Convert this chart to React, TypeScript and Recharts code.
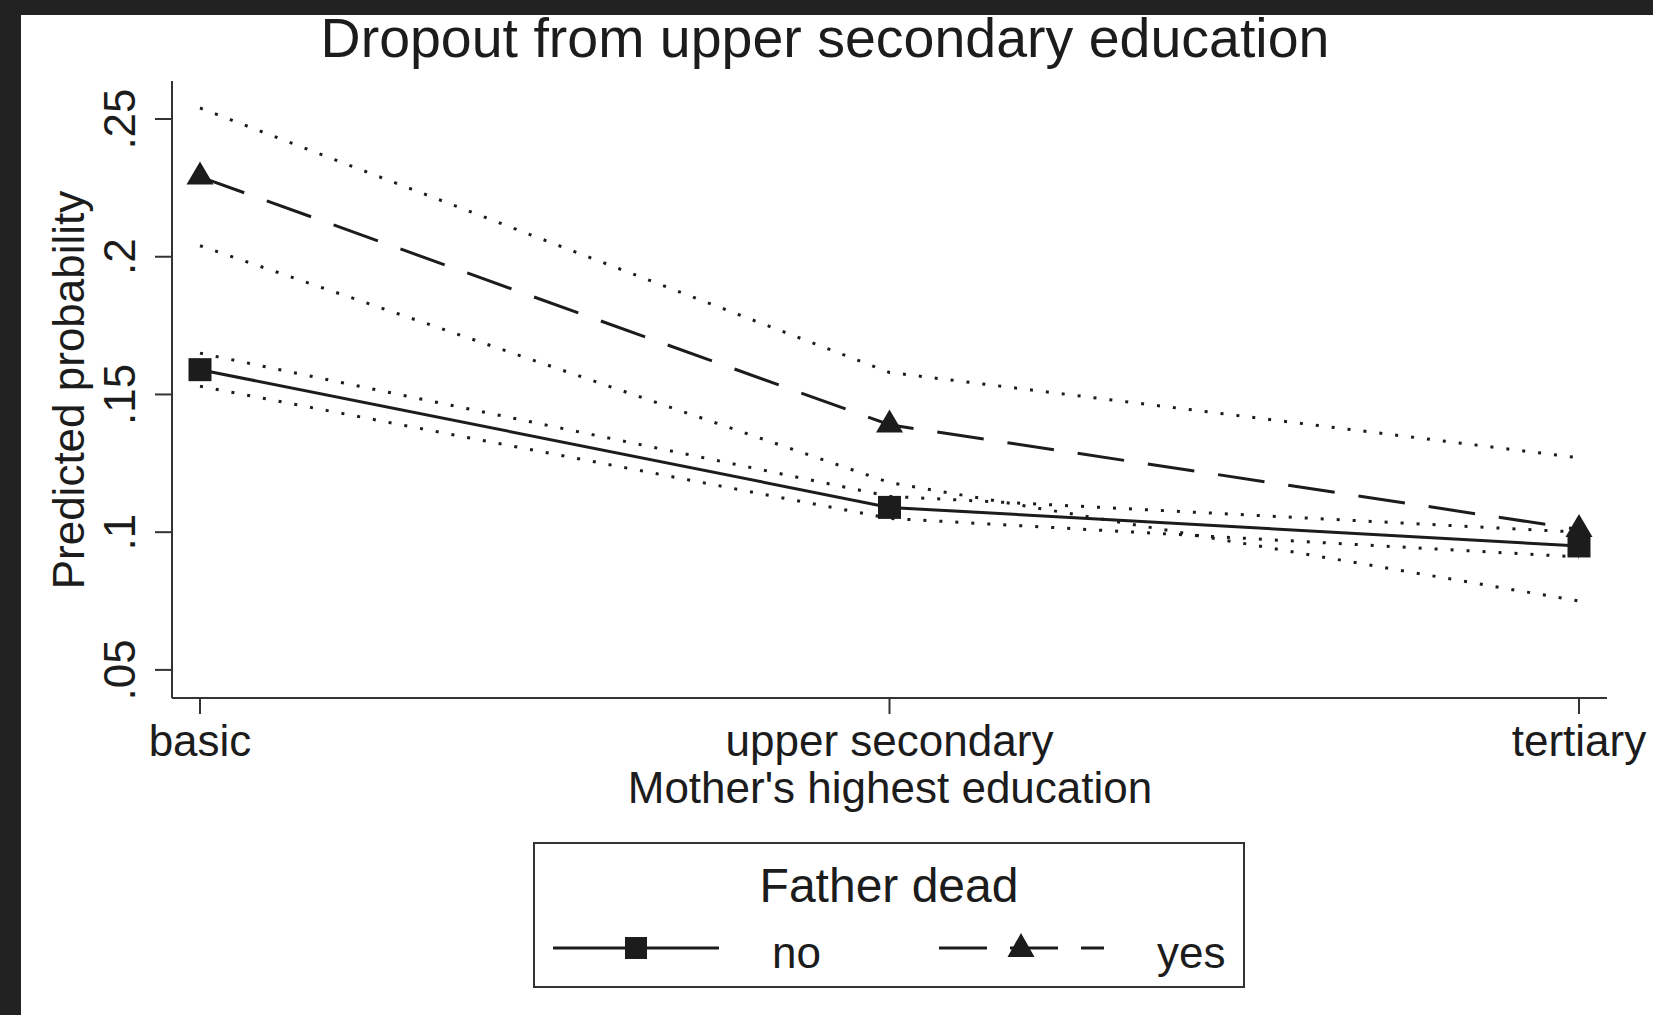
import React from "react";
import {
  LineChart,
  Line,
  XAxis,
  YAxis,
  Customized,
} from "recharts";

// Predicted probability of dropout, by mother's education and father's death
const categories = ["basic", "upper secondary", "tertiary"];
const noFit = [0.159, 0.109, 0.095];
const noLower = [0.153, 0.105, 0.091];
const noUpper = [0.165, 0.113, 0.1];
const yesFit = [0.229, 0.139, 0.101];
const yesLower = [0.204, 0.118, 0.075];
const yesUpper = [0.254, 0.158, 0.127];
const yTicks = [0.05, 0.1, 0.15, 0.2, 0.25];

const data = categories.map((cat, i) => ({
  cat,
  no: noFit[i],
  noLo: noLower[i],
  noHi: noUpper[i],
  yes: yesFit[i],
  yesLo: yesLower[i],
  yesHi: yesUpper[i],
}));

const FONT = "'Liberation Sans', Arial, Helvetica, sans-serif";
const INK = "#1c1c1c";
const FRAME = "#333";
const DOTS = "3 13";

const fmt = (v: number) => String(Number(v.toFixed(2))).replace(/^0/, "");

function Square({ cx, cy, size = 23 }: any) {
  if (cx == null || cy == null) return null;
  return <rect x={cx - size / 2} y={cy - size / 2} width={size} height={size} fill={INK} />;
}

function Triangle({ cx, cy, w = 27, h = 23 }: any) {
  if (cx == null || cy == null) return null;
  const top = cy - (h * 2) / 3;
  const bot = cy + h / 3;
  return (
    <polygon
      points={`${cx},${top} ${cx - w / 2},${bot} ${cx + w / 2},${bot}`}
      fill={INK}
    />
  );
}

function YTick({ x, y, payload }: any) {
  const tx = x - 18;
  return (
    <text
      x={tx}
      y={y}
      transform={`rotate(-90, ${tx}, ${y})`}
      textAnchor="middle"
      fontFamily={FONT}
      fontSize={44}
      fill={INK}
    >
      {fmt(payload.value)}
    </text>
  );
}

function XTick({ x, y, payload }: any) {
  return (
    <text x={x} y={y + 40} textAnchor="middle" fontFamily={FONT} fontSize={44} fill={INK}>
      {payload.value}
    </text>
  );
}

function Decorations() {
  return (
    <g fontFamily={FONT} fill={INK}>
      <text x={825} y={57} textAnchor="middle" fontSize={55.5}>
        Dropout from upper secondary education
      </text>
      <text
        x={84}
        y={390}
        transform="rotate(-90, 84, 390)"
        textAnchor="middle"
        fontSize={44}
      >
        Predicted probability
      </text>
      <text x={890} y={803} textAnchor="middle" fontSize={44}>
        Mother's highest education
      </text>

      {/* legend */}
      <rect x={534} y={843} width={710} height={144} fill="#fff" stroke={FRAME} strokeWidth={2} />
      <text x={889} y={902} textAnchor="middle" fontSize={48}>
        Father dead
      </text>
      <line x1={553} y1={948} x2={719} y2={948} stroke={INK} strokeWidth={3} />
      <Square cx={636} cy={948} size={22} />
      <text x={772} y={968} fontSize={44}>
        no
      </text>
      <line
        x1={939}
        y1={948}
        x2={1104}
        y2={948}
        stroke={INK}
        strokeWidth={3}
        strokeDasharray="48 23"
      />
      <Triangle cx={1021} cy={949} w={27} h={24} />
      <text x={1157} y={968} fontSize={44}>
        yes
      </text>
    </g>
  );
}

export default function App() {
  return (
    <div
      style={{
        position: "absolute",
        left: 0,
        top: 0,
        width: 1653,
        height: 1015,
        background: "#222",
        overflow: "hidden",
      }}
    >
      <div
        style={{
          position: "absolute",
          left: 21,
          top: 15,
          width: 1632,
          height: 1000,
          background: "#fff",
        }}
      />
      <div style={{ position: "absolute", left: 0, top: 0 }}>
        <LineChart
          width={1653}
          height={1015}
          data={data}
          margin={{ top: 81, right: 46, left: 0, bottom: 197 }}
        >
          <XAxis
            dataKey="cat"
            padding={{ left: 28, right: 28 }}
            height={120}
            tickSize={16}
            tickLine={{ stroke: FRAME, strokeWidth: 2 }}
            axisLine={{ stroke: FRAME, strokeWidth: 2 }}
            tick={<XTick />}
            interval={0}
          />
          <XAxis
            xAxisId="top"
            dataKey="cat"
            orientation="top"
            height={0}
            tick={false}
            tickLine={false}
            axisLine={{ stroke: FRAME, strokeWidth: 2 }}
          />
          <YAxis
            type="number"
            domain={[0.0398, 0.2638]}
            allowDataOverflow
            ticks={yTicks}
            width={172}
            tickSize={17}
            tickLine={{ stroke: FRAME, strokeWidth: 2 }}
            axisLine={{ stroke: FRAME, strokeWidth: 2 }}
            tick={<YTick />}
          />
          <YAxis
            yAxisId="right"
            orientation="right"
            width={0}
            tick={false}
            tickLine={false}
            axisLine={{ stroke: FRAME, strokeWidth: 2 }}
          />

          <Line dataKey="noHi" stroke={INK} strokeWidth={3} strokeDasharray={DOTS} dot={false} activeDot={false} isAnimationActive={false} />
          <Line dataKey="noLo" stroke={INK} strokeWidth={3} strokeDasharray={DOTS} dot={false} activeDot={false} isAnimationActive={false} />
          <Line dataKey="yesHi" stroke={INK} strokeWidth={3} strokeDasharray={DOTS} dot={false} activeDot={false} isAnimationActive={false} />
          <Line dataKey="yesLo" stroke={INK} strokeWidth={3} strokeDasharray={DOTS} dot={false} activeDot={false} isAnimationActive={false} />

          <Line
            dataKey="no"
            stroke={INK}
            strokeWidth={3}
            dot={(p: any) => <Square key={`sq-${p.index}`} cx={p.cx} cy={p.cy} />}
            activeDot={false}
            isAnimationActive={false}
          />
          <Line
            dataKey="yes"
            stroke={INK}
            strokeWidth={3}
            strokeDasharray="47 24"
            dot={(p: any) => <Triangle key={`tr-${p.index}`} cx={p.cx} cy={p.cy} />}
            activeDot={false}
            isAnimationActive={false}
          />
          <Customized component={<Decorations />} />
        </LineChart>
      </div>
    </div>
  );
}
